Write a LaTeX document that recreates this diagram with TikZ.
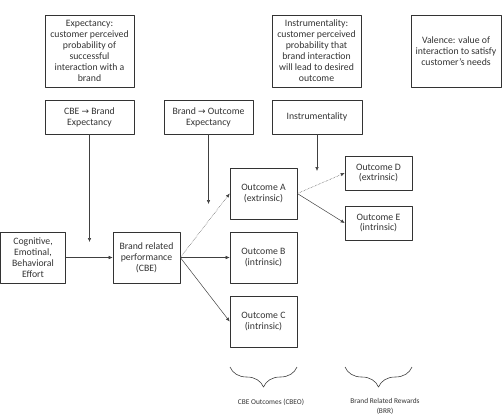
\documentclass[tikz,border=0pt]{standalone}
\usepackage{fontspec}
\setmainfont{Carlito}
\newfontfamily\symfont{DejaVu Sans}
\usetikzlibrary{arrows.meta,decorations.pathreplacing}
\newcommand{\rarr}{{\symfont\small →}}
\begin{document}
\begin{tikzpicture}[x=1bp, y=-1bp, line join=round, >={Latex[length=4pt,width=3.5pt]},
  box/.style={draw=black!80, line width=0.6pt, align=center, inner sep=1pt, text=black!80,
    font=\fontsize{9.8}{11}\selectfont},
  bigbox/.style={box, minimum width=89bp, minimum height=72bp},
  midbox/.style={box, minimum width=67bp, minimum height=51bp},
  smallbox/.style={box, minimum width=67bp, minimum height=34bp},
  conn/.style={->, black!75, line width=0.5pt},
  brc/.style={draw=black!75, line width=0.6pt, decorate, decoration={brace, mirror, amplitude=20bp}},
  lbl/.style={align=center, text=black!80, font=\fontsize{7.4}{10}\selectfont}]
\useasboundingbox (0,0) rectangle (503,416);
% top row
\node[bigbox] (expect) at (89.5,51) {Expectancy:\\customer perceived\\probability of\\successful\\interaction with a\\brand};
\node[bigbox] (instrdef) at (316.5,51) {Instrumentality:\\customer perceived\\probability that\\brand interaction\\will lead to desired\\outcome};
\node[bigbox, minimum width=90bp] (valence) at (456,51) {Valence: value of\\interaction to satisfy\\customer's needs};
% moderators
\node[box, minimum width=89bp, minimum height=34bp] (cbebrand) at (89.5,117) {CBE \rarr{} Brand\\Expectancy};
\node[box, minimum width=89bp, minimum height=34bp] (brandout) at (208.5,117) {Brand \rarr{} Outcome\\Expectancy};
\node[box, minimum width=90bp, minimum height=34bp] (instr) at (317,117) {Instrumentality};
% main chain
\node[midbox, minimum width=65bp] (effort) at (33,257.5) {Cognitive,\\Emotinal,\\Behavioral\\Effort};
\node[midbox] (perf) at (146.5,257.5) {Brand related\\performance\\(CBE)};
\node[midbox] (outA) at (263.5,193.5) {Outcome A\\(extrinsic)};
\node[midbox] (outB) at (263.5,257.5) {Outcome B\\(intrinsic)};
\node[midbox] (outC) at (263.5,321.5) {Outcome C\\(intrinsic)};
\node[smallbox] (outD) at (378.5,173) {Outcome D\\(extrinsic)};
\node[smallbox] (outE) at (378.5,223) {Outcome E\\(intrinsic)};
% free ends of the moderator arrows
\coordinate (m1) at (89.5,242);
\coordinate (m2) at (208.5,204);
\coordinate (m3) at (317,171);
\draw[conn] (cbebrand.south) -- (m1);
\draw[conn] (brandout.south) -- (m2);
\draw[conn] (instr.south) -- (m3);
% paths
\draw[conn] (effort.east) -- (perf.west);
\draw[conn, densely dotted] (perf.east) -- (outA.west);
\draw[conn] (perf.east) -- (outB.west);
\draw[conn] (perf.east) -- (outC.west);
\draw[conn, densely dotted] (outA.east) -- (outD.west);
\draw[conn] (outA.east) -- (outE.west);
% braces
\coordinate (b1l) at (230,367);
\coordinate (b1r) at (297,367);
\coordinate (b2l) at (345,367);
\coordinate (b2r) at (412,367);
\draw[brc] (b1l) -- (b1r);
\draw[brc] (b2l) -- (b2r);
\node[lbl] (cbeo) at (271,402) {CBE Outcomes (CBEO)};
\node[lbl] (brr) at (385,406) {Brand Related Rewards\\(BRR)};
\end{tikzpicture}
\end{document}
